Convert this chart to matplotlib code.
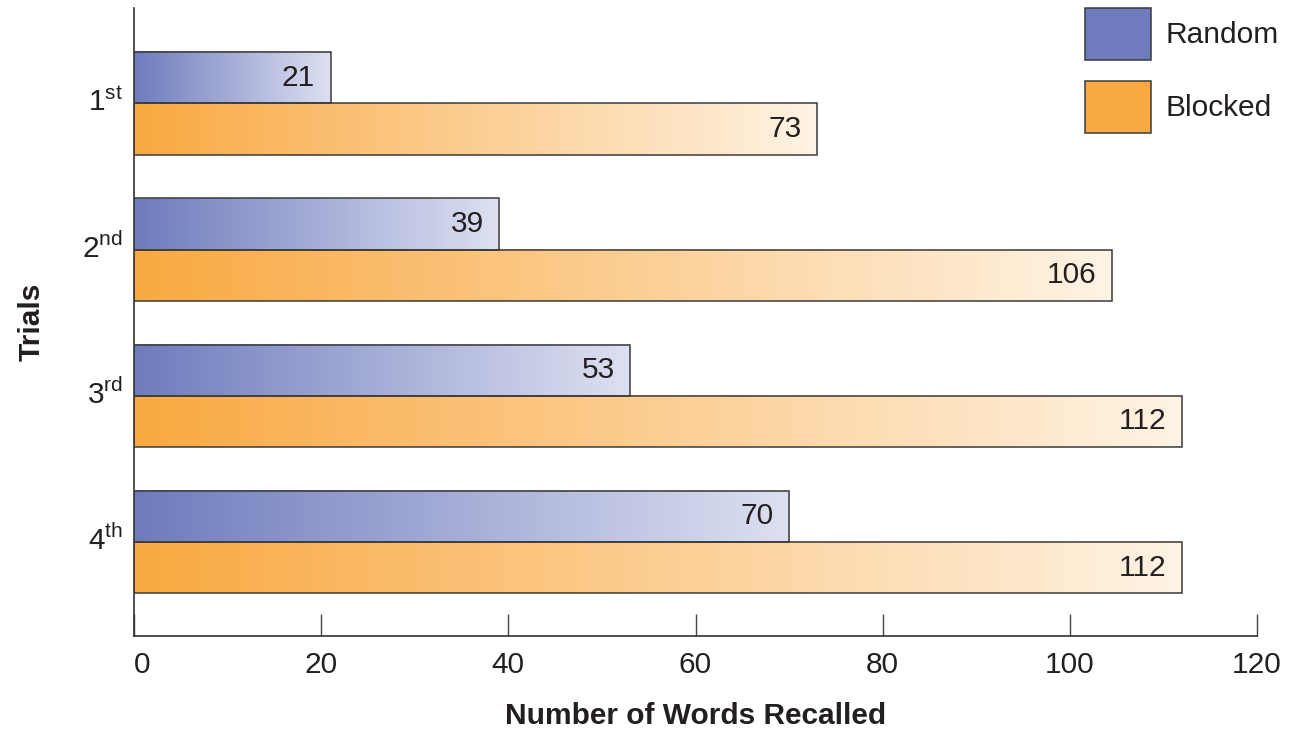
import numpy as np
import matplotlib
matplotlib.use("Agg")
import matplotlib.pyplot as plt
from matplotlib.colors import LinearSegmentedColormap
from matplotlib.patches import Rectangle

plt.rcParams['font.family'] = ['Liberation Sans', 'DejaVu Sans']
plt.rcParams['mathtext.fontset'] = 'custom'
plt.rcParams['mathtext.rm'] = 'Liberation Sans'

# ---- data ----
trials = ['1', '2', '3', '4']
trial_suffix = ['st', 'nd', 'rd', 'th']
random_vals = [21, 39, 53, 70]
random_labels = ['21', '39', '53', '70']
blocked_vals = [73, 104.5, 112, 112]
blocked_labels = ['73', '106', '112', '112']
series_names = ['Random', 'Blocked']
xticks = [0, 20, 40, 60, 80, 100, 120]

# ---- style ----
rand_dark, rand_light = '#6e7cbd', '#dde0f1'
blk_dark, blk_light = '#f9a941', '#fff3e4'
edge = '#3a3a3a'
text_col = '#231f20'
FS = 21.5

fig = plt.figure(figsize=(12.96, 7.31), dpi=100)
W, H = 1296, 731
ax = fig.add_axes([134 / W, 1 - 636 / H, (1257 - 134) / W, (636 - 8) / H])

bar_h = 0.35
y = np.arange(len(trials))

def grad_bar(y0, y1, length, c0, c1):
    cmap = LinearSegmentedColormap.from_list('g', [c0, c1])
    grad = np.linspace(0, 1, 256).reshape(1, -1)
    ax.imshow(grad, cmap=cmap, extent=(0, length, y1, y0), aspect='auto',
              interpolation='bilinear', zorder=2)
    ax.add_patch(Rectangle((0, y0), length, y1 - y0, fill=False,
                           edgecolor=edge, linewidth=1.1, zorder=3))

for i in range(len(trials)):
    # random bar (upper)
    grad_bar(y[i] - bar_h, y[i], random_vals[i], rand_dark, rand_light)
    ax.annotate(random_labels[i], xy=(random_vals[i], y[i] - bar_h / 2),
                xytext=(-11, 0), textcoords='offset points', ha='right',
                va='center', fontsize=FS, color=text_col, zorder=4)
    # blocked bar (lower)
    grad_bar(y[i], y[i] + bar_h, blocked_vals[i], blk_dark, blk_light)
    ax.annotate(blocked_labels[i], xy=(blocked_vals[i], y[i] + bar_h / 2),
                xytext=(-11, 0), textcoords='offset points', ha='right',
                va='center', fontsize=FS, color=text_col, zorder=4)

ax.set_xlim(0, 120)
ax.set_ylim(3.643, -0.653)

ax.set_xticks(xticks)
ax.set_xticklabels([str(t) for t in xticks])
ax.tick_params(axis='x', direction='in', length=16, width=1, color='#444444',
               labelsize=FS, labelcolor=text_col, pad=11)
labels = ax.get_xticklabels()
labels[0].set_ha('left')

ax.set_yticks(y - 0.03)
ax.set_yticklabels([t + r'$^{\mathrm{' + s + '}}$' for t, s in zip(trials, trial_suffix)])
ax.tick_params(axis='y', length=0, labelsize=FS, labelcolor=text_col, pad=8)

for s in ['top', 'right']:
    ax.spines[s].set_visible(False)
for s in ['left', 'bottom']:
    ax.spines[s].set_color('#333333')
    ax.spines[s].set_linewidth(1.2)

ax.set_xlabel('Number of Words Recalled', fontsize=FS, fontweight='bold',
              color=text_col)
ax.xaxis.set_label_coords(0.5, -0.105)
ax.set_ylabel('Trials', fontsize=FS, fontweight='bold', color=text_col)
ax.yaxis.set_label_coords(-0.079, 0.5)

# legend (manual)
leg_cols = [rand_dark, blk_dark]
leg_tops = [8, 81]
for name, c, top in zip(series_names, leg_cols, leg_tops):
    fig.add_artist(Rectangle((1085 / W, 1 - (top + 52) / H), 66 / W, 52 / H,
                             facecolor=c, edgecolor=edge, linewidth=1.1,
                             transform=fig.transFigure))
    fig.text(1166 / W, 1 - (top + 27) / H, name, fontsize=FS, color=text_col,
             va='center', ha='left')

fig.savefig('out.png', dpi=100)
